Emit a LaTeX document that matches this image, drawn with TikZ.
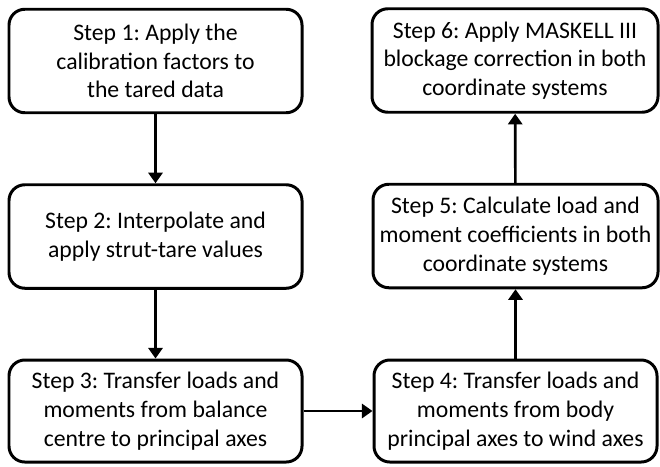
\documentclass[tikz,border=0pt]{standalone}
\usepackage{fontspec}
\setmainfont{Carlito}
\frenchspacing
\usetikzlibrary{arrows.meta}
\begin{document}
\begin{tikzpicture}[-{Triangle[width=8pt,length=6pt]}, line width=1.5pt]
		\tikzstyle{stepbox} = [draw, rounded corners=9pt, line width=1.7pt, align=center, minimum height=2.07cm, font=\fontsize{13.5}{16.4}\selectfont]
		\useasboundingbox (0,0) rectangle (13.2,-9.32);
		\node[stepbox, minimum width=5.86cm](S1) at (3.11,-1.22) {Step 1: Apply the\\calibration factors to\\the tared data};
		\node[stepbox, minimum width=5.86cm](S2) at (3.11,-4.73) {Step 2: Interpolate and\\apply strut-tare values};
		\node[stepbox, minimum width=5.86cm, minimum height=2.04cm](S3) at (3.11,-8.22) {Step 3: Transfer loads and\\moments from balance\\centre to principal axes};
		\node[stepbox, minimum width=5.66cm, minimum height=2.04cm](S4) at (10.31,-8.22) {Step 4: Transfer loads and\\moments from body\\principal axes to wind axes};
		\node[stepbox, minimum width=5.7cm](S5) at (10.31,-4.72) {Step 5: Calculate load and\\moment coefficients in both\\coordinate systems};
		\node[stepbox, minimum width=5.72cm](S6) at (10.3,-1.21) {Step 6: Apply MASKELL III\\blockage correction in both\\coordinate systems};
		\path (S1) edge (S2);
		\path (S2) edge (S3);
		\path (S3) edge (S4);
		\path (S4) edge (S5);
		\path (S5) edge (S6);
	\end{tikzpicture}
\end{document}
